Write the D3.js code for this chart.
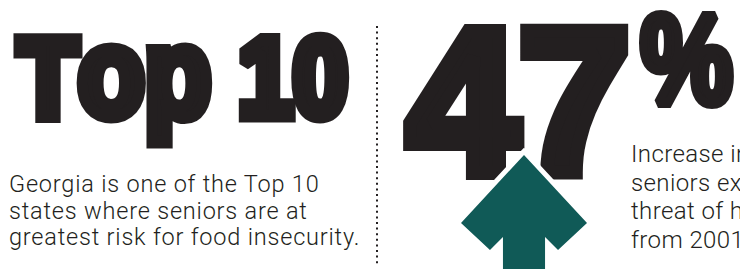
<!DOCTYPE html>
<html>
<head>
<meta charset="utf-8">
<script src="https://cdn.jsdelivr.net/npm/d3@7"></script>
<style>
  html, body { margin: 0; padding: 0; background: #fff; }
  svg { display: block; }
</style>
</head>
<body>
<div id="chart"></div>
<script>
// headline figures
let headlines = ["Top 10", "47", "%"];
// captions, one entry per line
let leftLines = ["Georgia is one of the Top 10", "states where seniors are at", "greatest risk for food insecurity."];
let rightLines = ["Increase in the number of", "seniors experiencing the", "threat of hunger", "from 2001 to 2011."];
// up-arrow outline in unit space (0..1 wide, 0..1 tall)
let arrowShape = [[0.5, 0], [0, 0.596], [0.23, 0.833], [0.333, 0.72], [0.333, 1.05], [0.667, 1.05], [0.667, 0.72], [0.77, 0.833], [1, 0.596]];

let width = 740, height = 269;
let ink = "#231f20", teal = "#105a57";

let svg = d3.select("#chart")
    .append("svg")
    .attr("width", width)
    .attr("height", height);

let bigFont = "'Liberation Sans', Arial, sans-serif";
let thinFont = "Roboto, 'Open Sans', sans-serif";

let ctx = document.createElement("canvas").getContext("2d");

// heavy figure: parts = [[string, size factor]], fitted to an ink box
function bigText(parts, x0, x1, top, baseline, thick) {
    let adv = 0, ascent = 0, inkStart = 0, inkEnd = 0;
    parts.forEach(function (p, i) {
        ctx.font = "bold " + (100 * p[1]) + "px " + bigFont;
        let m = ctx.measureText(p[0]);
        if (i === 0) inkStart = -m.actualBoundingBoxLeft;
        if (i === parts.length - 1) inkEnd = adv + m.actualBoundingBoxRight;
        ascent = Math.max(ascent, m.actualBoundingBoxAscent);
        adv += m.width;
    });
    let sx = (x1 - x0 - thick) / (inkEnd - inkStart);
    let sy = (baseline - top - thick) / ascent;

    let t = svg.append("text")
        .attr("transform", "translate(" + (x0 + thick / 2 - inkStart * sx) + "," + (baseline - thick / 2) + ") scale(" + sx + "," + sy + ")")
        .style("font-family", bigFont)
        .style("font-weight", "bold")
        .style("font-kerning", "none")
        .style("fill", ink)
        .style("stroke", ink)
        .style("stroke-width", thick / Math.sqrt(sx * sy))
        .style("stroke-linejoin", "miter")
        .style("stroke-miterlimit", 2);

    t.selectAll("tspan")
        .data(parts)
        .enter()
        .append("tspan")
        .style("font-size", function (d) { return (100 * d[1]) + "px"; })
        .text(function (d) { return d[0]; });
}

bigText([[headlines[0].slice(0, 1), 1], [headlines[0].slice(1, 3), 1.11], [headlines[0].slice(3), 1]], 13, 350, 32, 122, 12);
bigText([[headlines[1], 1]], 402, 630, 22, 180, 14);
bigText([[headlines[2], 1]], 638, 735, 10, 107, 9);

// dotted divider
svg.append("line")
    .attr("x1", 377).attr("x2", 377)
    .attr("y1", 26).attr("y2", 264)
    .attr("stroke", ink)
    .attr("stroke-width", 2)
    .attr("stroke-dasharray", "2 3.6");

// arrow, placed with scales
let ax = d3.scaleLinear().domain([0, 1]).range([461, 587]);
let ay = d3.scaleLinear().domain([0, 1]).range([155, 269]);
let arrowLine = d3.line()
    .x(function (d) { return ax(d[0]); })
    .y(function (d) { return ay(d[1]); })
    .curve(d3.curveLinearClosed);

svg.append("path")
    .datum(arrowShape)
    .attr("d", arrowLine)
    .attr("fill", teal)
    .attr("stroke", "#fff")
    .attr("stroke-width", 10)
    .attr("stroke-linejoin", "miter")
    .style("paint-order", "stroke");

// captions
function caption(lines, x, y0, step, size, spacing) {
    svg.append("g")
        .selectAll("text")
        .data(lines)
        .enter()
        .append("text")
        .attr("x", x)
        .attr("y", function (d, i) { return y0 + i * step; })
        .style("font-family", thinFont)
        .style("font-weight", 300)
        .style("font-size", size + "px")
        .style("letter-spacing", spacing + "px")
        .style("fill", ink)
        .text(function (d) { return d; });
}

caption(leftLines, 9, 192, 26.6, 23.5, 0.8);
caption(rightLines, 631, 162, 28.7, 24, 0.4);
</script>
</body>
</html>
